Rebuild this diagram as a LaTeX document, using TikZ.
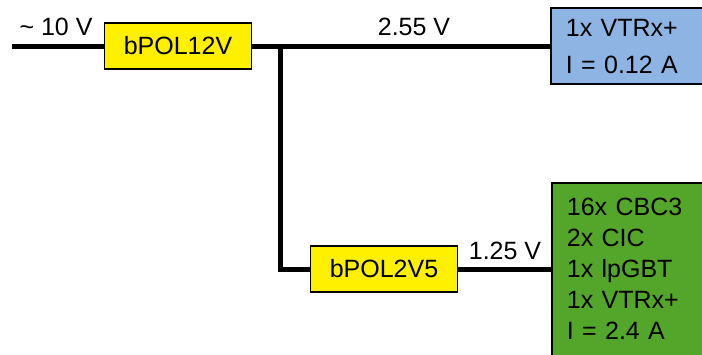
\documentclass[tikz,border=0pt]{standalone}
\usepackage{fontspec}
\setmainfont{Liberation Sans}
\definecolor{regyellow}{RGB}{255,240,0}
\definecolor{loadblue}{RGB}{141,180,226}
\definecolor{loadgreen}{RGB}{84,166,42}
\begin{document}
\begin{tikzpicture}[x=1pt, y=-1pt, every node/.style={font=\fontsize{25}{30}\selectfont},
        rail/.style={line width=5pt},
        regbox/.style={draw, line width=1.8pt, fill=regyellow, minimum width=147pt, minimum height=46pt, inner sep=0pt},
        loadbox/.style={draw, line width=1.8pt, anchor=north west, align=left, text width=150pt, inner xsep=15pt}]
        \useasboundingbox (0,0) rectangle (702,354);
        \clip (0,0) rectangle (702,354);
        % regulators and loads
        \node[regbox] (pol12) at (178,46) {bPOL12V};
        \node[regbox] (pol25) at (384,269) {bPOL2V5};
        \node[loadbox, fill=loadblue, inner ysep=11pt, font=\fontsize{25}{37}\selectfont] (vtrx) at (550,7)
            {1x VTRx+\\I = 0.12 A};
        \node[loadbox, fill=loadgreen, inner ysep=15pt, font=\fontsize{25}{31}\selectfont] (hybrid) at (551,182)
            {16x CBC3\\2x CIC\\1x lpGBT\\1x VTRx+\\I = 2.4 A\rule[-20pt]{0pt}{20pt}};
        \coordinate (vin) at (12,46);
        \coordinate (tap) at (280.5,46);
        % power lines
        \draw[rail] (vin) -- (pol12.west);
        \draw[rail] (pol12.east) -- (pol12.east -| vtrx.west);
        \draw[rail] (tap) |- (pol25.west);
        \draw[rail] (pol25.east) -- (pol25.east -| hybrid.west);
        % voltages
        \node[anchor=base] (vin-lbl) at (56,35) {\textasciitilde{} 10 V};
        \node[anchor=base] (v255-lbl) at (414,35) {2.55 V};
        \node[anchor=base] (v125-lbl) at (505,259) {1.25 V};
    \end{tikzpicture}
\end{document}
